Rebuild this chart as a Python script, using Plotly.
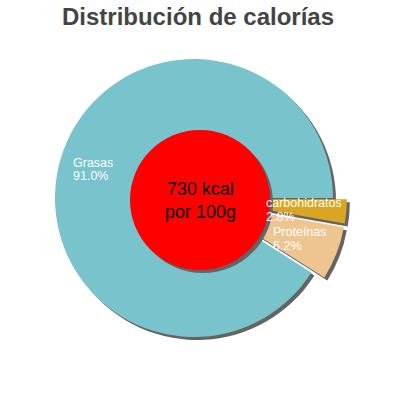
import plotly.graph_objects as go

# Data
labels = ["carbohidratos", "Proteínas", "Grasas"]
values = [2.8, 6.2, 91.0]
colors = ["#DAA520", "#EEC591", "#78C3CC"]
pulls = [0.1, 0.1, 0.0]
energy_text = "730 kcal<br>por 100g"
title_text = "Distribución de calorías"

W, H = 400, 400
SH = "#646464"
FONT = "Arial"

def px_dom(cx, cy, half):
    return dict(x=[(cx - half) / W, (cx + half) / W],
                y=[1 - (cy + half) / H, 1 - (cy - half) / H])

cx, cy, r = 194, 198, 139
half_outer = r * (1 + max(pulls))
rcx, rcy, rr = 200, 200, 70
off = 3

fig = go.Figure()
common = dict(sort=False, direction="clockwise", rotation=90,
              textinfo="none", hoverinfo="skip", showlegend=False)
fig.add_trace(go.Pie(labels=labels, values=values, pull=pulls,
                     marker=dict(colors=[SH] * 3, line=dict(width=0)),
                     domain=px_dom(cx + off, cy + off, half_outer), **common))
fig.add_trace(go.Pie(labels=labels, values=values, pull=pulls,
                     marker=dict(colors=colors, line=dict(width=0)),
                     domain=px_dom(cx, cy, half_outer), **common))
fig.add_trace(go.Pie(labels=["total"], values=[1],
                     marker=dict(colors=[SH], line=dict(width=0)),
                     domain=px_dom(rcx + off, rcy + off, rr), **common))
fig.add_trace(go.Pie(labels=["total"], values=[1],
                     marker=dict(colors=["#FF0000"], line=dict(width=0)),
                     domain=px_dom(rcx, rcy, rr), **common))

# slice labels (left-aligned two-line text blocks)
label_pos = {"Grasas": (72, 169.5), "carbohidratos": (265, 210), "Proteínas": (272, 239)}
lab_font = dict(family=FONT, size=12.5, color="white")
for lab, v in zip(labels, values):
    x, y = label_pos[lab]
    for txt, yy in ((lab, y - 7), (f"{v:.1f}%", y + 7)):
        fig.add_annotation(x=x / W, y=1 - yy / H, xref="paper", yref="paper",
                           xanchor="left", yanchor="middle", align="left",
                           height=12, valign="middle", borderpad=0,
                           text=txt, showarrow=False, font=lab_font)

fig.add_annotation(x=rcx / W, y=1 - rcy / H, xref="paper", yref="paper",
                   text=energy_text, showarrow=False,
                   font=dict(family=FONT, size=18, color="black"))

fig.update_layout(
    width=W, height=H,
    margin=dict(l=0, r=0, t=0, b=0),
    paper_bgcolor="white", plot_bgcolor="white",
    title=dict(text=title_text, x=198 / W, xanchor="center", y=1 - 17 / H, yanchor="middle",
               font=dict(family=FONT, size=24, color="#444444", weight="bold")),
)
fig.write_html("out.html", config={"displayModeBar": False},
               post_script="document.body.style.margin='0px';document.body.style.padding='0px';")
